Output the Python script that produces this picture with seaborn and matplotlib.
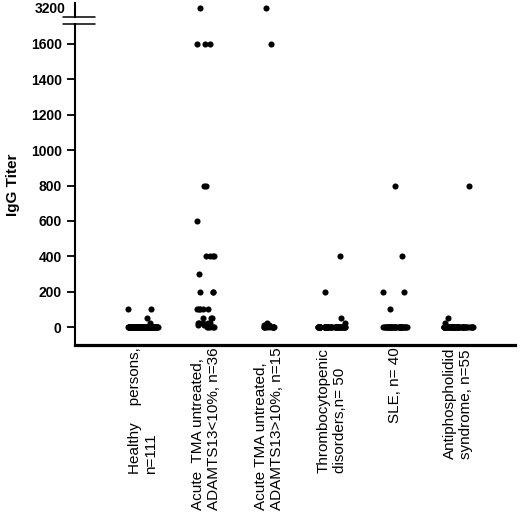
import numpy as np
import pandas as pd
import matplotlib
matplotlib.use("Agg")
import matplotlib.pyplot as plt
from matplotlib.lines import Line2D
import seaborn as sns

# group labels (x axis)
groups = ["Healthy    persons,\nn=111",
          "Acute  TMA untreated,\nADAMTS13<10%, n=36",
          "Acute TMA untreated,\nADAMTS13>10%, n=15",
          "Thrombocytopenic\ndisorders,n= 50",
          "SLE, n= 40",
          "Antiphospholidid\nsyndrome, n=55"]

# titer values, with how many dots sit at each value
healthy_titer = [100, 50, 25, 0]
healthy_count = [2, 1, 1, 107]
tma_low_titer = [3200, 1600, 800, 600, 400, 300, 200, 100, 50, 25, 12, 0]
tma_low_count = [1, 3, 2, 1, 4, 1, 3, 5, 3, 5, 3, 5]
tma_high_titer = [3200, 1600, 25, 12, 0]
tma_high_count = [1, 1, 1, 2, 10]
thrombo_titer = [400, 200, 50, 25, 0]
thrombo_count = [1, 1, 1, 1, 46]
sle_titer = [800, 400, 200, 100, 0]
sle_count = [1, 1, 2, 1, 35]
aps_titer = [800, 50, 25, 0]
aps_count = [1, 1, 1, 52]

# horizontal spread of each column of dots
spread = [0.24, 0.15, 0.08, 0.22, 0.19, 0.24]

titers = [healthy_titer, tma_low_titer, tma_high_titer, thrombo_titer, sle_titer, aps_titer]
counts = [healthy_count, tma_low_count, tma_high_count, thrombo_count, sle_count, aps_count]

frames = []
for g, t, c in zip(groups, titers, counts):
    frames.append(pd.DataFrame({"group": g, "titer": np.repeat(t, c)}))
df = pd.concat(frames, ignore_index=True)

sns.set_style("ticks")
plt.rcParams['font.family'] = ['Liberation Sans', 'DejaVu Sans']
for k in ("text.color", "axes.labelcolor", "xtick.color", "ytick.color", "axes.edgecolor"):
    plt.rcParams[k] = "black"

fig = plt.figure(figsize=(5.2, 5.29), dpi=100)
ax = fig.add_axes([0.144, 0.348, 0.846, 0.607])        # 0 - 1700 part
ax_top = fig.add_axes([0.144, 0.9679, 0.846, 0.0265])  # 3200 part

for a in (ax, ax_top):
    for i, g in enumerate(groups):
        np.random.seed(10 + i)
        sns.stripplot(data=df[df["group"] == g], x="group", y="titer", order=groups,
                      jitter=spread[i], size=4.4, color="black", linewidth=0, ax=a)
    a.set_xlim(-1.08, 5.9)
    a.set_xlabel("")
    a.set_ylabel("")

ax.set_ylim(-100, 1713)
ax.set_yticks(range(0, 1601, 200))
ax.tick_params(axis="y", labelsize=10, length=6, width=1.3, direction="out")
for lab in ax.get_yticklabels():
    lab.set_fontweight("bold")
ax.tick_params(axis="x", length=0, pad=2)
ax.set_xticks(range(len(groups)))
ax.set_xticklabels(groups, rotation=90, fontsize=11, va="top", ha="center",
                   multialignment="left")
ax.set_ylabel("IgG Titer", fontsize=11, fontweight="bold", labelpad=8)
sns.despine(ax=ax)
ax.spines["left"].set_linewidth(1.5)
ax.spines["bottom"].set_linewidth(2.3)

ax_top.set_ylim(3149, 3228)
ax_top.set_yticks([3200])
ax_top.tick_params(axis="y", labelsize=10, length=0, pad=7)
for lab in ax_top.get_yticklabels():
    lab.set_fontweight("bold")
ax_top.set_xticks([])
for s in ("top", "right", "bottom"):
    ax_top.spines[s].set_visible(False)
ax_top.spines["left"].set_linewidth(1.5)

# axis break marks
for yb in (0.968, 0.9546):
    fig.add_artist(Line2D([0.121, 0.183], [yb, yb], transform=fig.transFigure,
                          color="black", linewidth=1.1))

fig.savefig("out.png", dpi=100)
